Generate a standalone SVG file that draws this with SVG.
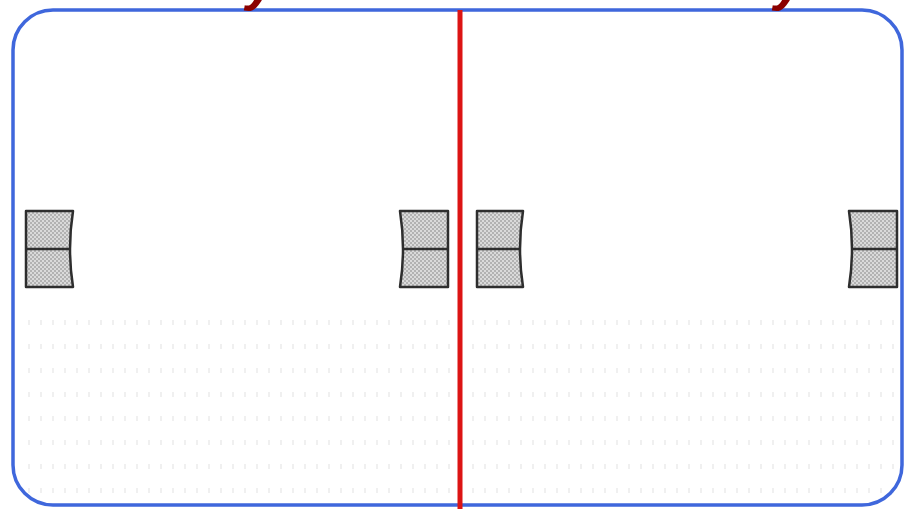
<svg xmlns="http://www.w3.org/2000/svg" width="904" height="509" viewBox="0 0 904 509">
<style>
.frame{fill:none;stroke:#3f67dc;stroke-width:3.5}
.divider{stroke:#dc1414;stroke-width:5}
.lens{fill:url(#chk);stroke:#2e2e2e;stroke-width:2.5;stroke-linejoin:round}
.mid{stroke:#2e2e2e;stroke-width:2.5}
.cut{font-family:"Liberation Sans",Arial,sans-serif;font-size:54px;font-weight:bold;font-style:italic;fill:#8b0000}
</style>
<defs>
<pattern id="chk" width="4" height="4" patternUnits="userSpaceOnUse">
<rect width="4" height="4" fill="#dadada"/>
<rect width="2" height="2" fill="#b2b2b2"/>
<rect x="2" y="2" width="2" height="2" fill="#b2b2b2"/>
</pattern>
<pattern id="dots" width="24" height="24" patternUnits="userSpaceOnUse">
<rect x="4" y="8" width="2" height="5" fill="#f0f0f0"/>
<rect x="16" y="8" width="2" height="5" fill="#f0f0f0"/>
</pattern>
</defs>
<rect width="904" height="509" fill="#ffffff"/>
<rect x="20" y="310" width="880" height="190" fill="url(#dots)"/>
<g id="frame"><rect class="frame" x="13" y="10" width="889" height="495" rx="40" ry="40"/></g>
<g id="connectors"><line class="divider" x1="460" y1="10" x2="460" y2="509"/></g>
<g id="lens1"><path class="lens" d="M26,211 L73,211 Q67,249 73,287 L26,287 Z"/><line class="mid" x1="26" y1="249" x2="70" y2="249"/></g>
<g id="lens2"><path class="lens" d="M400,211 L448,211 L448,287 L400,287 Q406,249 400,211 Z"/><line class="mid" x1="403" y1="249" x2="448" y2="249"/></g>
<g id="lens3"><path class="lens" d="M477,211 L523,211 Q517,249 523,287 L477,287 Z"/><line class="mid" x1="477" y1="249" x2="520" y2="249"/></g>
<g id="lens4"><path class="lens" d="M849,211 L897,211 L897,287 L849,287 Q855,249 849,211 Z"/><line class="mid" x1="852" y1="249" x2="897" y2="249"/></g>
<g id="title"><text class="cut" x="246" y="0">y</text><text class="cut" x="774" y="0">y</text></g>
</svg>
